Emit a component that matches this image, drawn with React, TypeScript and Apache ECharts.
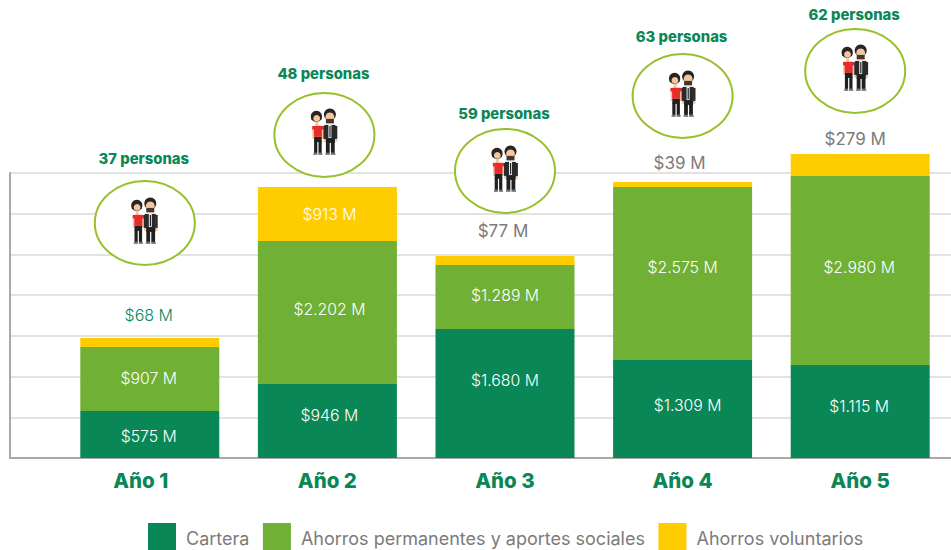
import React, { useEffect, useRef } from "react";
import * as echarts from "echarts";

// Categories and printed labels
const years = ["Año 1", "Año 2", "Año 3", "Año 4", "Año 5"];
const seriesNames = ["Cartera", "Ahorros permanentes y aportes sociales", "Ahorros voluntarios"];
const carteraLabels = ["$575 M", "$946 M", "$1.680 M", "$1.309 M", "$1.115 M"];
const ahorrosLabels = ["$907 M", "$2.202 M", "$1.289 M", "$2.575 M", "$2.980 M"];
const voluntariosLabels = ["$68 M", "$913 M", "$77 M", "$39 M", "$279 M"];
const personas = ["37 personas", "48 personas", "59 personas", "63 personas", "62 personas"];

// Bar heights as drawn, read against the gridlines (one gridline = 500)
const cartera = [577, 909, 1585, 1204, 1142];
const ahorros = [786, 1757, 786, 2125, 2322];
const voluntarios = [110, 663, 110, 61, 270];
// Height of each bubble's centre on the same axis
const bubbleLevel = [2887, 3968, 3526, 4447, 4754];

const GREEN = "#0a8757";
const MID = "#6fb035";
const YELLOW = "#ffcc00";
const GRAY = "#7b7b7b";
const FONT = "Inter";

const insideShift: Record<string, [number, number][]> = {
  c: [[-1, 2], [2, -5], [0, -13], [5, -3], [-1, -5]],
  a: [[-1, -1], [2, -3], [0, -1], [0, -6], [-1, -3]],
};
const topGap = [15.5, 0, 16.5, 10.5, 6.5];
const topShift = [-1, 0, -2, -3, -5];
const bubbleShift = [-5, -3, 0, 0, -5];
const titleGap = [-64, -61, -57, -59, -56];
const iconGap = [-31, -32, -31, -31, -32];

function person(): any[] {
  const r = (x: number, y: number, w: number, h: number, fill: string) => ({
    type: "rect", shape: { x, y, width: w, height: h }, style: { fill },
  });
  const c = (cx: number, cy: number, rad: number, fill: string) => ({
    type: "circle", shape: { cx, cy, r: rad }, style: { fill },
  });
  return [
    // woman
    c(11.5, 13.5, 5.6, "#2b2522"),
    r(6.5, 13, 10, 4, "#2b2522"),
    c(11.8, 15.5, 3.4, "#f2c6a0"),
    r(10.5, 19, 3, 4, "#f2c6a0"),
    r(7.5, 25, 2, 11, "#f2c6a0"),
    r(16.5, 25, 2, 11, "#f2c6a0"),
    r(9, 23, 8, 11, "#ea2b2b"),
    r(7.3, 23, 11.4, 3.5, "#ea2b2b"),
    r(9.2, 34, 7.6, 5, "#1f1f1f"),
    r(9.2, 38, 3.2, 12, "#1f1f1f"),
    r(13.6, 38, 3.2, 12, "#1f1f1f"),
    r(8.5, 50, 4, 2, "#777"),
    r(13.5, 50, 4, 2, "#777"),
    // man
    c(25, 11.5, 6, "#2b2522"),
    c(25, 14, 4.4, "#f2c6a0"),
    r(21, 16, 8, 4.5, "#4a3526"),
    r(19.5, 22, 11, 15, "#2a2a2a"),
    r(18.5, 23, 2.4, 13, "#2a2a2a"),
    r(30, 23, 2.4, 13, "#2a2a2a"),
    r(23.5, 22, 3, 13, "#f4f4f4"),
    r(24.5, 23, 1.2, 11, "#222"),
    r(18.8, 36, 2, 3, "#f2c6a0"),
    r(30.3, 36, 2, 3, "#f2c6a0"),
    r(21, 36, 9, 4, "#1f1f1f"),
    r(21, 38, 3.8, 12, "#1f1f1f"),
    r(26, 38, 3.8, 12, "#1f1f1f"),
    r(20.5, 50, 4.5, 2, "#777"),
    r(26, 50, 4.5, 2, "#777"),
  ];
}

const insideLabel = (text: string, shift: [number, number]) => ({
  show: true,
  position: "inside",
  formatter: text,
  color: "#ffffff",
  fontFamily: FONT,
  fontWeight: 300,
  fontSize: 15.8,
  offset: shift,
});

export default function App() {
  const ref = useRef<HTMLDivElement>(null);
  useEffect(() => {
    document.body.style.margin = "0";
    const chart = echarts.init(ref.current!, undefined, { renderer: "svg" });
    chart.setOption({
      animation: false,
      backgroundColor: "#ffffff",
      grid: [
        { left: 10, right: 0, top: 173, bottom: 92 },
        { left: 61, width: 888, top: 2, bottom: 92 },
      ],
      xAxis: [
        {
          type: "category", gridIndex: 0, data: [""],
          axisLine: { show: true, lineStyle: { color: "#a9a9a9", width: 2 } },
          axisTick: { show: false }, axisLabel: { show: false },
        },
        {
          type: "category", gridIndex: 1,
          data: years.map((value, i) => (i === 0 ? { value, textStyle: { padding: [0, 18, 0, 0] } } : value)),
          axisLine: { show: false }, axisTick: { show: false },
          axisLabel: { color: GREEN, fontFamily: FONT, fontWeight: 800, fontSize: 20.5, margin: 12 },
        },
      ],
      yAxis: [
        {
          type: "value", min: 0, max: 3500, interval: 500, gridIndex: 0,
          axisLine: { show: true, lineStyle: { color: "#a9a9a9", width: 2 } },
          axisTick: { show: false }, axisLabel: { show: false },
          splitLine: { show: true, lineStyle: { color: "#e2e2e2", width: 2 } },
        },
        {
          type: "value", min: 0, max: 5600, interval: 500, gridIndex: 1,
          axisLine: { show: false }, axisTick: { show: false }, axisLabel: { show: false },
          splitLine: { show: false },
        },
      ],
      legend: {
        left: 148, top: 523, padding: 0, itemWidth: 28, itemHeight: 31, itemGap: 13.5,
        icon: "rect",
        data: seriesNames,
        selectedMode: false,
        textStyle: { color: GRAY, fontFamily: FONT, fontWeight: 400, fontSize: 18, padding: [0, 0, 0, 5] },
      },
      series: [
        {
          name: seriesNames[0], type: "bar", stack: "t", xAxisIndex: 1, yAxisIndex: 1,
          barWidth: 139, itemStyle: { color: GREEN },
          data: cartera.map((value, i) => ({ value, label: insideLabel(carteraLabels[i], insideShift.c[i]) })),
        },
        {
          name: seriesNames[1], type: "bar", stack: "t", xAxisIndex: 1, yAxisIndex: 1,
          barWidth: 139, itemStyle: { color: MID },
          data: ahorros.map((value, i) => ({ value, label: insideLabel(ahorrosLabels[i], insideShift.a[i]) })),
        },
        {
          name: seriesNames[2], type: "bar", stack: "t", xAxisIndex: 1, yAxisIndex: 1,
          barWidth: 139, itemStyle: { color: YELLOW },
          data: voluntarios.map((value, i) => ({
            value,
            label: i === 1
              ? insideLabel(voluntariosLabels[i], [2, 1])
              : {
                  show: true, position: "top", distance: topGap[i], offset: [topShift[i], 0],
                  formatter: voluntariosLabels[i],
                  color: i === 0 ? GREEN : GRAY,
                  fontFamily: FONT, fontWeight: i === 0 ? 300 : 400, fontSize: i === 0 ? 16 : 17,
                },
          })),
        },
        {
          type: "custom", xAxisIndex: 1, yAxisIndex: 1, silent: true, z: 5,
          data: bubbleLevel.map((v, i) => [i, v]),
          renderItem: (params: any, api: any) => {
            const i = params.dataIndex;
            const p = api.coord([api.value(0), api.value(1)]);
            const cx = p[0] + bubbleShift[i];
            const cy = p[1];
            return {
              type: "group",
              children: [
                {
                  type: "ellipse",
                  shape: { cx, cy, rx: 50, ry: 42 },
                  style: { fill: "#ffffff", stroke: "#98c02c", lineWidth: 2 },
                },
                { type: "group", x: cx - 19.5, y: cy + iconGap[i], children: person() },
                {
                  type: "text",
                  style: {
                    x: cx - 1, y: cy + titleGap[i], text: personas[i],
                    fill: GREEN, font: `800 14.8px ${FONT}`,
                    textAlign: "center", textVerticalAlign: "middle",
                  },
                },
              ],
            };
          },
        },
      ],
    });
    return () => chart.dispose();
  }, []);
  return <div ref={ref} style={{ width: 951, height: 550 }} />;
}
